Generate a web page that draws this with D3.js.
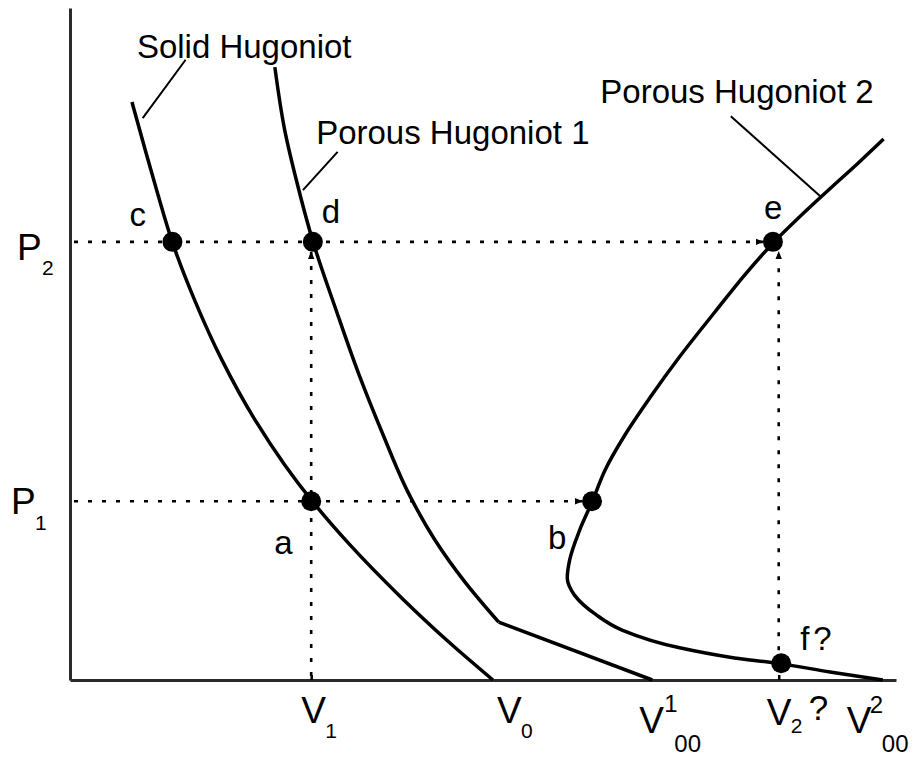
<!DOCTYPE html>
<html><head><meta charset="utf-8">
<script src="https://cdn.jsdelivr.net/npm/d3@7"></script>
<style>
body{margin:0;background:#fff}
svg{display:block}
text{font-family:"Liberation Sans",Arial,Helvetica,sans-serif;fill:#000}
</style>
</head><body>
<svg id="chart" width="913" height="758"></svg>
<script>
// ---- data (arbitrary V / P units) ----
const solidV = [7.5, 9.1, 10.65, 12.35, 15.1, 18.4, 22.4, 26.0, 29.2, 33.9, 40.0, 46.0, 51.2];
const solidP = [86.0, 78.9, 72.2, 65.3, 56.5, 47.6, 38.7, 32.0, 26.8, 20.1, 12.4, 5.5, 0];

const porous1V = [24.8, 26.0, 27.4, 29.4, 32.2, 35.0, 37.9, 40.9, 44.2, 47.8, 51.9];
const porous1P = [91.2, 81.8, 74.4, 65.3, 55.1, 45.4, 36.5, 28.0, 20.8, 14.6, 8.6];
const porous1TailV = [51.9, 70.5];
const porous1TailP = [8.6, 0];

const porous2V = [98.5, 95.4, 92.0, 88.4, 85.1, 81.7, 78.1, 73.8, 70.2, 67.2, 64.8, 63.2, 61.7, 60.5, 60.2, 61.1, 63.6, 66.9, 73.8, 79.9, 86.1, 92.0, 98.4];
const porous2P = [80.5, 76.9, 73.1, 69.0, 65.0, 60.3, 54.8, 48.1, 42.0, 36.5, 31.3, 26.5, 22.3, 17.9, 15.2, 12.6, 9.8, 7.4, 4.8, 3.4, 2.4, 1.2, 0];

const pointNames = ["c", "d", "e", "a", "b", "f"];
const pointV = [12.4, 29.4, 85.1, 29.2, 63.2, 86.1];
const pointP = [65.2, 65.2, 65.2, 26.6, 26.6, 2.5];

const P1 = 26.6, P2 = 65.2;
const V1 = 29.2, V0 = 51.2, V00a = 70.5, V2 = 85.8, V00b = 98.4;
const xTickValues = [V1, V2];

// ---- scales ----
const svg = d3.select("#chart");
const x = d3.scaleLinear().domain([0, 100]).range([70, 896]);
const y = d3.scaleLinear().domain([0, 100]).range([680, 8]);
const zip = (a, b) => a.map((v, i) => [v, b[i]]);
const smooth = d3.line().x(d => x(d[0])).y(d => y(d[1])).curve(d3.curveMonotoneY);
const straight = d3.line().x(d => x(d[0])).y(d => y(d[1]));

// arrow marker
const defs = svg.append("defs");
defs.append("marker").attr("id", "arr").attr("viewBox", "0 -5 10 10")
  .attr("refX", 9).attr("refY", 0).attr("markerWidth", 8).attr("markerHeight", 8)
  .attr("markerUnits", "userSpaceOnUse").attr("orient", "auto")
  .append("path").attr("d", "M0,-4L10,0L0,4Z").attr("fill", "#000");

// ---- axes ----
const xAxis = svg.append("g").attr("transform", `translate(0,${y(0)})`)
  .call(d3.axisBottom(x).tickValues(xTickValues).tickSizeInner(-5).tickSizeOuter(0).tickFormat(""));
const yAxis = svg.append("g").attr("transform", `translate(${x(0)},0)`)
  .call(d3.axisLeft(y).tickValues([]).tickSizeOuter(0));
[xAxis, yAxis].forEach(a => {
  a.select(".domain").attr("stroke", "#2a2a2a").attr("stroke-width", 3);
  a.selectAll(".tick line").attr("stroke", "#000").attr("stroke-width", 2.5);
});

// ---- dashed guide lines ----
const R = 10;
const dash = (x1, y1, x2, y2) => svg.append("line")
  .attr("x1", x1).attr("y1", y1).attr("x2", x2).attr("y2", y2)
  .attr("stroke", "#000").attr("stroke-width", 2.6).attr("stroke-dasharray", "4 10")
  .attr("marker-end", "url(#arr)");
dash(x(0) + 4, y(P2), x(pointV[2]) - R, y(P2));
dash(x(0) + 4, y(P1), x(pointV[4]) - R, y(P1));
dash(x(V1), y(0) - 4, x(V1), y(P2) + R);
dash(x(V2), y(pointP[5]) - R - 3, x(V2), y(P2) + R);

// ---- curves ----
const curveStyle = p => p.attr("fill", "none").attr("stroke", "#000").attr("stroke-width", 3.5).attr("stroke-linejoin", "round");
svg.append("path").attr("d", smooth(zip(solidV, solidP))).call(curveStyle);
svg.append("path").attr("d", smooth(zip(porous1V, porous1P))).call(curveStyle);
svg.append("path").attr("d", straight(zip(porous1TailV, porous1TailP))).call(curveStyle);
svg.append("path").attr("d", smooth(zip(porous2V, porous2P))).call(curveStyle);

// ---- points ----
svg.selectAll("circle.pt").data(zip(pointV, pointP)).join("circle")
  .attr("class", "pt").attr("cx", d => x(d[0])).attr("cy", d => y(d[1])).attr("r", R).attr("fill", "#000");

// ---- leader lines ----
const leader = (v1, p1, v2, p2) => svg.append("line")
  .attr("x1", x(v1)).attr("y1", y(p1)).attr("x2", x(v2)).attr("y2", y(p2))
  .attr("stroke", "#000").attr("stroke-width", 2);
leader(14.0, 92.3, 8.8, 83.6);
leader(32.4, 78.6, 28.2, 72.9);
leader(80.0, 83.9, 90.9, 71.9);

// ---- text ----
const txt = (s, px, py, size) => svg.append("text").attr("x", px).attr("y", py)
  .attr("font-size", size).text(s);
const FS = 33;
txt("Solid Hugoniot", x(8.1), y(92.5), FS);
txt("Porous Hugoniot 1", x(29.8), y(79.7), FS);
txt("Porous Hugoniot 2", x(64.2), y(85.9), FS);

const lab = [[-43, -16], [9, -19], [-9, -23], [-37, 53], [-44, 48], [19, -13]];
pointNames.forEach((n, i) => {
  const t = txt(n, x(pointV[i]) + lab[i][0], y(pointP[i]) + lab[i][1], FS);
  if (n === "f") t.append("tspan").attr("dx", 4).text("?");
});

// axis labels
const BIG = 37, SUB = 21, SUP = 24;
txt("P", x(0) - 53, y(P2) + 18, BIG);
txt("2", x(0) - 28, y(P2) + 33, SUB);
txt("P", x(0) - 59, y(P1) + 13, BIG);
txt("1", x(0) - 35, y(P1) + 29, SUB);

txt("V", x(V1) - 10, y(0) + 43, BIG);
txt("1", x(V1) + 14, y(0) + 58, SUB);
txt("V", x(V0) + 4, y(0) + 43, BIG);
txt("0", x(V0) + 28, y(0) + 58, SUB);
txt("V", x(V00a) - 13, y(0) + 53, BIG);
txt("1", x(V00a) + 12, y(0) + 32, SUP);
txt("00", x(V00a) + 22, y(0) + 72, SUP);
txt("V", x(V2) - 12, y(0) + 45, BIG);
txt("2", x(V2) + 12, y(0) + 53, SUB);
txt("?", x(V2) + 30, y(0) + 40, 35);
txt("V", x(V00b) - 36, y(0) + 53, BIG);
txt("2", x(V00b) - 13, y(0) + 33, SUP);
txt("00", x(V00b) - 1, y(0) + 72, SUP);
</script>
</body></html>
